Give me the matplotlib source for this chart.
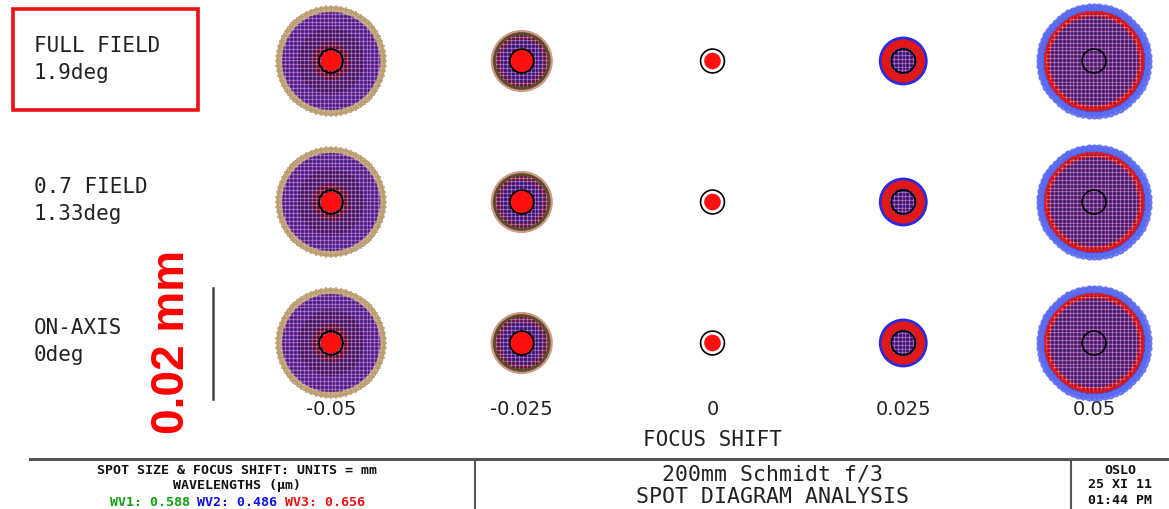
import numpy as np
import matplotlib
matplotlib.use("Agg")
import matplotlib.pyplot as plt
from matplotlib.patches import Circle, Rectangle
from matplotlib.lines import Line2D

# focus shifts (columns) and fields (rows)
focus_shift = [-0.05, -0.025, 0.0, 0.025, 0.05]
shift_labels = ["-0.05", "-0.025", "0", "0.025", "0.05"]
field_names = ["FULL FIELD", "0.7 FIELD", "ON-AXIS"]
field_angles = ["1.9deg", "1.33deg", "0deg"]

# spot rings, outer to inner (mm), one list per focus shift
ring_radii = [
    [0.0099, 0.0088, 0.0060, 0.0034],
    [0.0056, 0.0052, 0.0046, 0.0038],
    [],
    [0.0044, 0.0039, 0.0024],
    [0.0101, 0.0093, 0.0091, 0.0080],
]
ring_colors = [
    ["#c6ae86", "#5a2e9e", "#4e2272", "#6e1838"],
    ["#d09a8a", "#5e4a26", "#70204c", "#44228a"],
    [],
    ["#2a2ae0", "#e01818", "#46208a"],
    ["#6a7af0", "#3a3ae0", "#d81a1a", "#58287e"],
]
mesh_radius = [0.0090, 0.0047, 0.0, 0.0024, 0.0086]
core_radius = [0.0018, 0.0021, 0.0015, 0.0, 0.0]
edge_marker = ["+", None, None, None, "o"]
edge_color = ["#b8996a", None, None, None, "#5a6af0"]
airy_radius = 0.00215
scale_bar = 0.02

wavelengths = ["0.588", "0.486", "0.656"]
wave_colors = ["#10a010", "#1010e0", "#ee1010"]

W, H = 1169, 509
MM_PX = 5550.0          # pixels per mm in the spot plots
MONO = "DejaVu Sans Mono"


def fy(py):
    return 1 - py / H


def draw_spot(ins, col):
    for rad, color in zip(ring_radii[col], ring_colors[col]):
        ins.add_patch(Circle((0, 0), rad, facecolor=color, edgecolor="none"))
    if edge_marker[col]:
        ang = np.linspace(0, 2 * np.pi, 64, endpoint=False)
        r = ring_radii[col][0] * 0.97
        ins.scatter(r * np.cos(ang), r * np.sin(ang), s=22, marker=edge_marker[col],
                    color=edge_color[col], linewidths=1.2, alpha=0.8, zorder=2)
    m = mesh_radius[col]
    if m > 0:
        clip = Circle((0, 0), m, transform=ins.transData)
        step = 0.0007
        for v in np.arange(-m, m, step):
            for xs, ys in (([v, v], [-m, m]), ([-m, m], [v, v])):
                ln, = ins.plot(xs, ys, color="#f4a0dc", lw=0.7, alpha=0.45, zorder=3)
                ln.set_clip_path(clip)
            for xs, ys in (([v + step / 2] * 2, [-m, m]), ([-m, m], [v + step / 2] * 2)):
                ln, = ins.plot(xs, ys, color="#1a0830", lw=0.6, alpha=0.25, zorder=3)
                ln.set_clip_path(clip)
    if core_radius[col] > 0:
        ins.add_patch(Circle((0, 0), core_radius[col], facecolor="#ff1010",
                             edgecolor="none", zorder=4))
    ins.add_patch(Circle((0, 0), airy_radius, facecolor="none", edgecolor="black",
                         lw=1.2, zorder=5))


fig = plt.figure(figsize=(W / 100, H / 100), dpi=100)

# main axes: x = focus shift, y = row (2 at top)
ax = fig.add_axes([331 / W, 1 - 397 / H, 763 / W, 397 / H])
ax.set_xlim(focus_shift[0], focus_shift[-1])
row_px = 141.0
ax.set_ylim(2 - (397 - 61) / row_px, 2 + 61 / row_px)
x_px = 763 / (focus_shift[-1] - focus_shift[0])
for s in ax.spines.values():
    s.set_visible(False)
ax.set_yticks([])
ax.set_xticks(focus_shift)
ax.set_xticklabels(shift_labels, fontsize=14, color="#222222")
ax.tick_params(axis="x", length=0, pad=2)
ax.set_xlabel("FOCUS SHIFT", family=MONO, fontsize=15, color="#222222", labelpad=8)

half = 65.0
lim = half / MM_PX
for r in range(len(field_names)):
    for c, fs in enumerate(focus_shift):
        ins = ax.inset_axes([fs - half / x_px, (2 - r) - half / row_px,
                             2 * half / x_px, 2 * half / row_px], transform=ax.transData)
        ins.set_xlim(-lim, lim)
        ins.set_ylim(-lim, lim)
        ins.axis("off")
        draw_spot(ins, c)

# scale bar next to the bottom row
bar_x = focus_shift[0] - (331 - 213) / x_px
sb = ax.inset_axes([bar_x - half / x_px, -half / row_px, 2 * half / x_px, 2 * half / row_px],
                   transform=ax.transData)
sb.set_xlim(-lim, lim)
sb.set_ylim(-lim, lim)
sb.axis("off")
sb.plot([0, 0], [-scale_bar / 2, scale_bar / 2], color="#444444", lw=1.8)

# field labels
for r, (name, angle) in enumerate(zip(field_names, field_angles)):
    y0 = 46 + r * 141
    fig.text(34 / W, fy(y0), name, family=MONO, fontsize=15, color="#222222", va="center")
    fig.text(34 / W, fy(y0 + 27), angle, family=MONO, fontsize=15, color="#222222", va="center")

fig.add_artist(Rectangle((13 / W, fy(110)), 185 / W, 101 / H, transform=fig.transFigure,
                         fill=False, edgecolor="#ee1111", lw=2.6))
fig.text(172 / W, fy(342), "0.02 mm", rotation=90, color="#ff0000", fontweight="bold",
         fontsize=33, family="Liberation Sans", ha="center", va="center")

# title block
line_kw = dict(transform=fig.transFigure, color="#555555")
fig.add_artist(Line2D([30 / W, 1], [fy(459), fy(459)], lw=2.2, **line_kw))
for xv in (475, 1071):
    fig.add_artist(Line2D([xv / W, xv / W], [fy(459), 0], lw=1.5, **line_kw))

small = dict(family=MONO, fontsize=9.5, fontweight="bold", ha="center", va="center",
             color="#111111")
fig.text(237 / W, fy(470), "SPOT SIZE & FOCUS SHIFT: UNITS = mm", **small)
fig.text(237 / W, fy(486), "WAVELENGTHS (\u00b5m)", **small)
parts = ["WV%d: %s " % (i + 1, w) for i, w in enumerate(wavelengths)]
adv = 0.602 * 9.5 * 100 / 72
x0 = 237 - adv * (len("".join(parts)) - 1) / 2
for p, col in zip(parts, wave_colors):
    fig.text(x0 / W, fy(502), p, family=MONO, fontsize=9.5, fontweight="bold",
             ha="left", va="center", color=col)
    x0 += adv * len(p)

fig.text(773 / W, fy(474), "200mm Schmidt f/3", family=MONO, fontsize=15.5,
         ha="center", va="center", color="#222222")
fig.text(773 / W, fy(497), "SPOT DIAGRAM ANALYSIS", family=MONO, fontsize=15.5,
         ha="center", va="center", color="#222222")

fig.text(1120 / W, fy(470), "OSLO", **small)
fig.text(1120 / W, fy(485), "25 XI 11", **small)
fig.text(1120 / W, fy(500), "01:44 PM", **small)

fig.savefig("out.png", dpi=100, facecolor="white")
